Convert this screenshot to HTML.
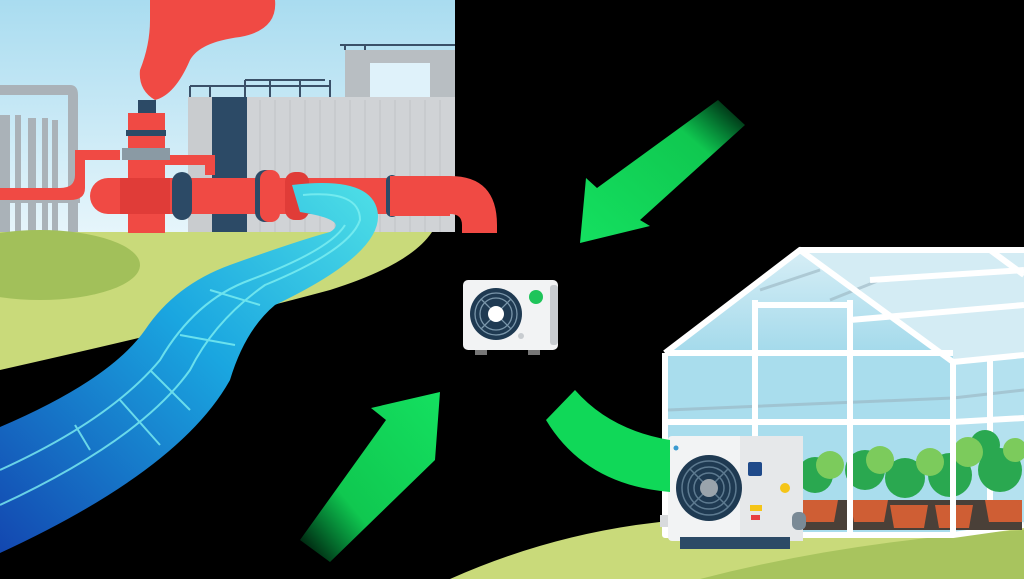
<!DOCTYPE html>
<html><head><meta charset="utf-8"><style>html,body{margin:0;padding:0;background:#000}svg{display:block}</style></head>
<body>
<svg width="1024" height="579" viewBox="0 0 1024 579" xmlns="http://www.w3.org/2000/svg">
<defs>
<linearGradient id="sky" x1="0" y1="0" x2="0" y2="1"><stop offset="0" stop-color="#a9dcf0"/><stop offset="1" stop-color="#e6f5fb"/></linearGradient>
<linearGradient id="water" x1="1" y1="0" x2="0" y2="1"><stop offset="0" stop-color="#4fe0e6"/><stop offset="0.45" stop-color="#1aa6e0"/><stop offset="1" stop-color="#1347b0"/></linearGradient>
<linearGradient id="ga1" x1="0" y1="1" x2="1" y2="0"><stop offset="0" stop-color="#00e060" stop-opacity="0"/><stop offset="0.35" stop-color="#10c850"/><stop offset="1" stop-color="#14e060"/></linearGradient>
<linearGradient id="ga2" x1="1" y1="0" x2="0" y2="1"><stop offset="0" stop-color="#00e060" stop-opacity="0"/><stop offset="0.3" stop-color="#10c850"/><stop offset="1" stop-color="#14e060"/></linearGradient>
<linearGradient id="glass" x1="0" y1="0" x2="0" y2="1"><stop offset="0" stop-color="#d7eef6"/><stop offset="1" stop-color="#9fd8ea"/></linearGradient>
</defs>
<rect width="1024" height="579" fill="#000"/>
<!-- left scene -->
<path d="M0 0 H455 V150 Q455 200 430 232 H0 Z" fill="url(#sky)"/>
<path d="M0 85 H70 Q78 85 78 95 V232 H68 V95 H0 Z" fill="#aab2b8"/>
<g fill="#aab2b8"><rect x="0" y="115" width="10" height="117"/><rect x="15" y="115" width="6" height="117"/><rect x="28" y="118" width="8" height="114"/><rect x="42" y="118" width="6" height="114"/><rect x="52" y="120" width="6" height="112"/><rect x="0" y="198" width="80" height="5"/></g>
<rect x="345" y="50" width="110" height="50" fill="#b8bec2"/>
<rect x="370" y="63" width="60" height="37" fill="#dff2fa"/>
<rect x="188" y="97" width="267" height="135" fill="#c9cccf"/>
<rect x="212" y="97" width="35" height="135" fill="#2c4a66"/>
<rect x="247" y="97" width="208" height="135" fill="#d0d3d6"/>
<g stroke="#bfc3c6" stroke-width="1"><path d="M260 100V232M275 100V232M290 100V232M305 100V232M320 100V232M335 100V232M350 100V232M365 100V232M380 100V232M395 100V232M410 100V232M425 100V232M440 100V232"/></g>
<g stroke="#3a5068" stroke-width="2" fill="none"><path d="M190 86H330M190 97V86M210 97V86M245 97V80M245 80H325M330 80V97M270 80V97M300 80V97"/><path d="M340 45H455M345 50V45M365 50V45"/></g>
<path d="M0 232 H432 Q410 265 330 290 Q200 325 0 370 Z" fill="#c9da7a"/>
<ellipse cx="40" cy="265" rx="100" ry="35" fill="#a2c05a"/>
<!-- red pipes -->
<path d="M0 188 H60 Q75 188 75 175 V150 H120 V160 H85 V188 Q85 200 70 200 H0 Z" fill="#f04a44"/>
<path d="M160 155 H215 V175 H205 V165 H160 Z" fill="#f04a44"/>
<path d="M150 0 H275 Q278 30 240 37 Q200 42 190 60 Q175 95 155 100 Q138 90 140 70 Q150 45 150 20 Z" fill="#f04a44"/>
<rect x="138" y="100" width="18" height="14" fill="#2c4a66"/>
<rect x="128" y="113" width="37" height="120" fill="#f04a44"/>
<rect x="126" y="130" width="40" height="6" fill="#2c4a66"/>
<rect x="122" y="148" width="48" height="12" fill="#8a9aa4"/>
<rect x="90" y="178" width="370" height="36" rx="18" fill="#f04a44"/>
<rect x="120" y="178" width="50" height="36" fill="#e03c38"/>
<rect x="172" y="172" width="20" height="48" rx="10" fill="#2c4a66"/>
<rect x="255" y="170" width="24" height="52" rx="10" fill="#2c4a66"/>
<rect x="260" y="170" width="20" height="52" rx="9" fill="#f04a44"/>
<rect x="285" y="172" width="24" height="48" rx="10" fill="#e03c38"/>
<rect x="386" y="175" width="12" height="42" rx="6" fill="#2c4a66"/>
<rect x="390" y="176" width="60" height="40" fill="#f04a44"/>
<path d="M450 176 Q497 176 497 225 V233 H462 V225 Q462 214 450 214 Z" fill="#f04a44"/>
<!-- water stream -->
<path d="M292 185 Q375 175 378 215 Q380 255 275 305 Q245 330 230 380 Q180 470 0 553 V427 Q110 380 145 330 Q175 285 230 265 Q300 240 330 232 Q350 220 300 212 Z" fill="url(#water)"/>
<g stroke="#7ef0f2" stroke-width="2" fill="none" opacity="0.8"><path d="M303 195 Q360 190 360 220 Q350 250 265 285 Q215 320 190 370 Q140 440 0 505"/><path d="M0 470 Q110 420 160 360 Q195 300 250 280 Q330 250 345 225"/><path d="M210 290 L260 305 M180 335 L235 345 M150 370 L190 410 M120 400 L160 445 M75 425 L90 450"/></g>
<!-- bottom right ground -->
<path d="M450 579 Q560 530 680 520 Q850 505 1024 490 V579 Z" fill="#c9da7a"/>
<path d="M700 579 Q850 540 1024 530 V579 Z" fill="#a8c45e"/>
<!-- greenhouse -->
<path d="M800 250 H1024 V355 L953 362 Z" fill="#d4ecf4"/>
<path d="M665 353 L800 250 L953 362 Z" fill="url(#glass)"/>
<rect x="665" y="353" width="288" height="185" fill="#a9dded"/>
<path d="M953 362 L1024 355 V525 L953 535 Z" fill="#b4e1ef"/>
<g stroke="#9ab4c0" stroke-width="3" opacity="0.6" fill="none"><path d="M668 410 L953 398 L1024 390 M830 300 L880 280 M760 290 L820 270"/></g>
<g stroke="#fff" stroke-width="6" fill="none" stroke-linejoin="round">
<path d="M665 353 L800 250 L953 362 V535 M665 353 V535 H953 L1024 525 M665 353 H953 M800 250 H1024 M953 362 L1024 355 M665 422 H953 M953 422 L1024 418"/>
<path d="M755 305 H850 M755 300 V535 M850 300 V535 M850 320 L1024 305 M870 280 L1024 270 M990 250 L1024 275 M990 360 V530"/>
</g>
<!-- plants -->
<rect x="800" y="500" width="222" height="30" fill="#4a4038"/>
<g fill="#cf5e34"><path d="M800 500 H838 L834 522 H804 Z"/><path d="M850 500 H888 L884 522 H854 Z"/><path d="M890 505 H928 L924 528 H894 Z"/><path d="M935 505 H973 L969 528 H939 Z"/><path d="M985 500 H1022 V522 H989 Z"/></g>
<g fill="#2aa850"><circle cx="815" cy="475" r="18"/><circle cx="865" cy="470" r="20"/><circle cx="905" cy="478" r="20"/><circle cx="950" cy="475" r="22"/><circle cx="1000" cy="470" r="22"/><circle cx="985" cy="445" r="15"/></g>
<g fill="#7ccb5c"><circle cx="830" cy="465" r="14"/><circle cx="880" cy="460" r="14"/><circle cx="930" cy="462" r="14"/><circle cx="968" cy="452" r="15"/><circle cx="1015" cy="450" r="12"/></g>
<g stroke="#fff" stroke-width="6"><path d="M850 422 V535 M953 362 V535"/></g>
<!-- greenhouse heat pump -->
<rect x="660" y="515" width="20" height="12" fill="#d8dadc"/>
<rect x="668" y="436" width="135" height="105" rx="4" fill="#f2f3f4"/>
<rect x="740" y="436" width="63" height="105" fill="#e6e8ea"/>
<rect x="680" y="537" width="110" height="12" fill="#2c4a66"/>
<circle cx="709" cy="488" r="33" fill="#1f3a52"/>
<g stroke="#5d7a90" stroke-width="1.5" fill="none"><circle cx="709" cy="488" r="27"/><circle cx="709" cy="488" r="21"/><circle cx="709" cy="488" r="15"/><path d="M690 469 L728 507 M728 469 L690 507"/></g>
<circle cx="709" cy="488" r="9" fill="#9aa4ac"/>
<rect x="748" y="462" width="14" height="14" rx="2" fill="#1f4a8a"/>
<circle cx="785" cy="488" r="5" fill="#f5c518"/>
<rect x="750" y="505" width="12" height="6" fill="#f5c518"/>
<rect x="751" y="515" width="9" height="5" fill="#e84040"/>
<circle cx="676" cy="448" r="2.5" fill="#3a9ad0"/>
<rect x="792" y="512" width="14" height="18" rx="6" fill="#7a8a96"/>
<!-- center unit -->
<rect x="463" y="280" width="95" height="70" rx="5" fill="#f2f3f4"/>
<rect x="550" y="285" width="8" height="60" rx="3" fill="#c8ccd0"/>
<rect x="475" y="350" width="12" height="5" fill="#777"/>
<rect x="528" y="350" width="12" height="5" fill="#777"/>
<circle cx="496" cy="314" r="26" fill="#1f3a52"/>
<g stroke="#7a96aa" stroke-width="1.3" fill="none"><circle cx="496" cy="314" r="21"/><circle cx="496" cy="314" r="16"/><path d="M481 299 L511 329 M511 299 L481 329"/></g>
<circle cx="496" cy="314" r="8" fill="#fff"/>
<circle cx="536" cy="297" r="7" fill="#1fc45a"/>
<circle cx="521" cy="336" r="3" fill="#c8ccd0"/>
<!-- arrows -->
<path d="M718 100 L745 125 L640 220 L650 226 L580 243 L586 178 L597 188 Z" fill="url(#ga2)"/>
<path d="M300 540 L330 562 L435 460 L440 392 L371 408 L386 420 Z" fill="url(#ga1)"/>
<path d="M546 420 L575 390 Q610 430 670 440 L670 492 Q585 485 546 420 Z" fill="#10d858"/>
</svg>
</body></html>
